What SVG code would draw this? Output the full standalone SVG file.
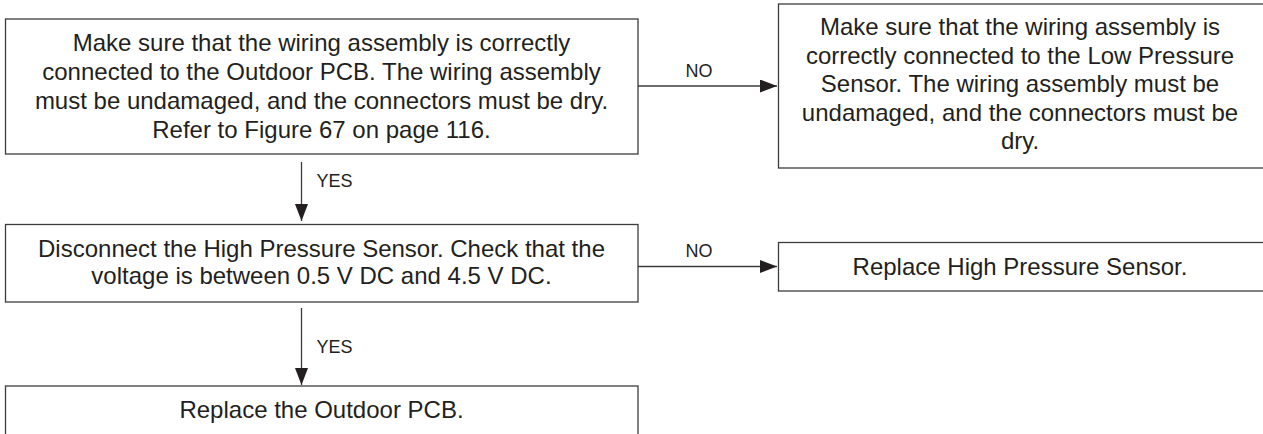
<svg xmlns="http://www.w3.org/2000/svg" width="1263" height="434" viewBox="0 0 1263 434">
  <style>
    .box { fill: #ffffff; stroke: #3c3c3c; stroke-width: 1.3; }
    .t { font-family: "Liberation Sans", Arial, sans-serif; font-size: 24px; fill: #231f20; text-anchor: middle; }
    .lbl { font-family: "Liberation Sans", Arial, sans-serif; font-size: 18px; fill: #231f20; }
    .c { stroke: #3c3c3c; stroke-width: 1.3; fill: none; }
  </style>
  <defs>
    <marker id="arr" markerUnits="userSpaceOnUse" markerWidth="18" markerHeight="14" refX="17" refY="6.5" orient="auto">
      <path d="M0,0 L17,6.5 L0,13 Z" fill="#231f20"/>
    </marker>
  </defs>
  <rect width="1263" height="434" fill="#ffffff"/>

  <g id="node-check-wiring-outdoor">
    <rect class="box" x="5.5" y="19" width="632.5" height="135"/>
    <text class="t" x="321.5" y="51">Make sure that the wiring assembly is correctly</text>
    <text class="t" x="321.5" y="80">connected to the Outdoor PCB. The wiring assembly</text>
    <text class="t" x="321.5" y="109">must be undamaged, and the connectors must be dry.</text>
    <text class="t" x="321.5" y="138">Refer to Figure 67 on page 116.</text>
  </g>

  <g id="node-check-wiring-lps">
    <rect class="box" x="778.5" y="4" width="490" height="164"/>
    <text class="t" x="1020" y="35">Make sure that the wiring assembly is</text>
    <text class="t" x="1020" y="63.5">correctly connected to the Low Pressure</text>
    <text class="t" x="1020" y="92">Sensor. The wiring assembly must be</text>
    <text class="t" x="1020" y="120.5">undamaged, and the connectors must be</text>
    <text class="t" x="1020" y="149">dry.</text>
  </g>

  <g id="node-check-voltage">
    <rect class="box" x="5.5" y="224.5" width="632.5" height="77.5"/>
    <text class="t" x="321.5" y="257">Disconnect the High Pressure Sensor. Check that the</text>
    <text class="t" x="321.5" y="284">voltage is between 0.5 V DC and 4.5 V DC.</text>
  </g>

  <g id="node-replace-hps">
    <rect class="box" x="778.5" y="242.5" width="490" height="48.5"/>
    <text class="t" x="1020" y="275">Replace High Pressure Sensor.</text>
  </g>

  <g id="node-replace-pcb">
    <rect class="box" x="5.5" y="386" width="632.5" height="60"/>
    <text class="t" x="321.5" y="418">Replace the Outdoor PCB.</text>
  </g>

  <g id="connectors">
    <line class="c" x1="638" y1="86" x2="777" y2="86" marker-end="url(#arr)"/>
    <text class="lbl" x="699" y="77" text-anchor="middle">NO</text>
    <line class="c" x1="301.5" y1="162" x2="301.5" y2="221" marker-end="url(#arr)"/>
    <text class="lbl" x="316.5" y="187">YES</text>
    <line class="c" x1="638" y1="266.5" x2="777" y2="266.5" marker-end="url(#arr)"/>
    <text class="lbl" x="699" y="257" text-anchor="middle">NO</text>
    <line class="c" x1="301.5" y1="308" x2="301.5" y2="385" marker-end="url(#arr)"/>
    <text class="lbl" x="316.5" y="353">YES</text>
  </g>
</svg>
